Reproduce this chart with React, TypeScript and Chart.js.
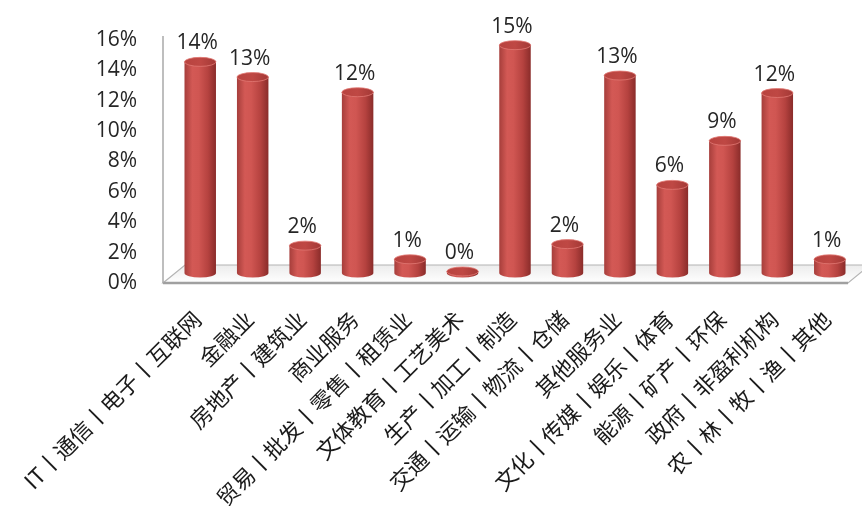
import React, { useEffect, useRef } from 'react';
import { Chart, registerables } from 'chart.js';

Chart.register(...registerables);

const categories: string[] = [
  'IT丨通信丨电子丨互联网',
  '金融业',
  '房地产丨建筑业',
  '商业服务',
  '贸易丨批发丨零售丨租赁业',
  '文体教育丨工艺美术',
  '生产丨加工丨制造',
  '交通丨运输丨物流丨仓储',
  '其他服务业',
  '文化丨传媒丨娱乐丨体育',
  '能源丨矿产丨环保',
  '政府丨非盈利机构',
  '农丨林丨牧丨渔丨其他',
];

const shares: number[] = [13.9, 12.9, 1.8, 11.9, 0.9, 0.1, 15.0, 1.9, 13.0, 5.8, 8.7, 11.85, 0.9];

const yMin = 0;
const yMax = 16;
const yStep = 2;

const LABEL_FONT = '"Open Sans", "DejaVu Sans", sans-serif';
const CJK_FONT = '"Noto Sans CJK SC", sans-serif';

function bodyGradient(ctx: CanvasRenderingContext2D, x: number, w: number) {
  const g = ctx.createLinearGradient(x - w / 2, 0, x + w / 2, 0);
  g.addColorStop(0, '#a63e3b');
  g.addColorStop(0.25, '#d35955');
  g.addColorStop(0.45, '#d05652');
  g.addColorStop(0.75, '#b5423f');
  g.addColorStop(1, '#8a2c2a');
  return g;
}

const cylinderPlugin = {
  id: 'cylinders',
  beforeDatasetsDraw(chart: any) {
    const { ctx, chartArea } = chart;
    const { left, right, top, bottom } = chartArea;
    const depthX = 22;
    const depthY = 18;
    const fl = left - 11;
    const fr = right - 8;
    ctx.save();
    const fg = ctx.createLinearGradient(0, bottom - depthY, 0, bottom);
    fg.addColorStop(0, '#ececec');
    fg.addColorStop(1, '#ffffff');
    ctx.beginPath();
    ctx.moveTo(fl, bottom);
    ctx.lineTo(fr, bottom);
    ctx.lineTo(fr + depthX, bottom - depthY);
    ctx.lineTo(fl + depthX, bottom - depthY);
    ctx.closePath();
    ctx.fillStyle = fg;
    ctx.fill();
    ctx.strokeStyle = '#b4b4b4';
    ctx.lineWidth = 1.2;
    ctx.stroke();
    ctx.beginPath();
    ctx.moveTo(fl, bottom);
    ctx.lineTo(fr, bottom);
    ctx.strokeStyle = '#a0a0a0';
    ctx.lineWidth = 2.5;
    ctx.stroke();
    ctx.beginPath();
    ctx.moveTo(fl, top - 4);
    ctx.lineTo(fl, bottom);
    ctx.strokeStyle = '#a8a8a8';
    ctx.lineWidth = 1.5;
    ctx.stroke();
    ctx.restore();
  },
  afterDatasetsDraw(chart: any) {
    const { ctx } = chart;
    const meta = chart.getDatasetMeta(0);
    const ry = 4.5;
    ctx.save();
    meta.data.forEach((el: any, i: number) => {
      const x = el.x;
      const y = el.y;
      const base = el.base;
      const w = el.width;
      const rx = w / 2;
      ctx.beginPath();
      ctx.ellipse(x, base, rx, ry, 0, 0, Math.PI);
      ctx.closePath();
      ctx.fillStyle = bodyGradient(ctx, x, w);
      ctx.fill();
      const tg = ctx.createLinearGradient(x - rx, 0, x + rx, 0);
      tg.addColorStop(0, '#b8433f');
      tg.addColorStop(0.5, '#bf4844');
      tg.addColorStop(1, '#a33936');
      ctx.beginPath();
      ctx.ellipse(x, y, rx, ry, 0, 0, Math.PI * 2);
      ctx.fillStyle = tg;
      ctx.fill();
      ctx.strokeStyle = 'rgba(225,120,115,0.8)';
      ctx.lineWidth = 1;
      ctx.stroke();
      ctx.fillStyle = '#262626';
      ctx.font = `21px ${LABEL_FONT}`;
      ctx.textAlign = 'center';
      ctx.textBaseline = 'alphabetic';
      ctx.fillText(Math.round(shares[i]) + '%', x - 3, y - ry - 8);
    });
    ctx.restore();
  },
};

export default function App() {
  const canvasRef = useRef<HTMLCanvasElement | null>(null);

  useEffect(() => {
    const canvas = canvasRef.current;
    if (!canvas) return;
    const chart = new Chart(canvas, {
      type: 'bar',
      data: {
        labels: categories,
        datasets: [
          {
            data: shares,
            yAxisID: 'y2',
            barPercentage: 0.6,
            categoryPercentage: 1,
            borderWidth: 0,
            backgroundColor: (c: any) => {
              const ch = c.chart;
              const xs = ch.scales && ch.scales.x;
              if (!ch.chartArea || !xs || c.dataIndex === undefined) return '#c0504d';
              const x = xs.getPixelForValue(c.dataIndex);
              const w = (xs.width / categories.length) * 0.6;
              return bodyGradient(ch.ctx, x, w);
            },
          },
        ],
      },
      options: {
        responsive: false,
        animation: false,
        devicePixelRatio: 1,
        layout: { padding: { top: 40, right: 6, left: 0, bottom: 0 } },
        plugins: {
          legend: { display: false },
          tooltip: { enabled: false },
        },
        scales: {
          x: {
            grid: { display: false },
            border: { display: false },
            ticks: {
              autoSkip: false,
              minRotation: 45,
              maxRotation: 45,
              padding: 15,
              labelOffset: -3,
              color: '#1a1a1a',
              font: { family: CJK_FONT, size: 22 },
            },
            afterFit: (scale: any) => {
              scale.height = 223;
              scale.paddingLeft = 0;
              scale.paddingRight = 0;
            },
          },
          y: {
            min: yMin,
            max: yMax,
            grid: { display: false, drawTicks: false },
            border: { display: false },
            ticks: {
              stepSize: yStep,
              padding: 37,
              color: '#262626',
              font: { family: LABEL_FONT, size: 21 },
              callback: (v: any) => v + '%',
            },
            afterFit: (scale: any) => {
              scale.width = 174;
              scale.paddingTop = 0;
              scale.paddingBottom = 0;
            },
          },
          y2: {
            display: false,
            min: -0.66,
            max: 15.34,
          },
        },
      },
      plugins: [cylinderPlugin],
    });
    return () => chart.destroy();
  }, []);

  return (
    <div style={{ position: 'absolute', left: 0, top: 0, width: 862, height: 506, background: '#fff' }}>
      <canvas ref={canvasRef} width={862} height={506} style={{ display: 'block' }} />
    </div>
  );
}
